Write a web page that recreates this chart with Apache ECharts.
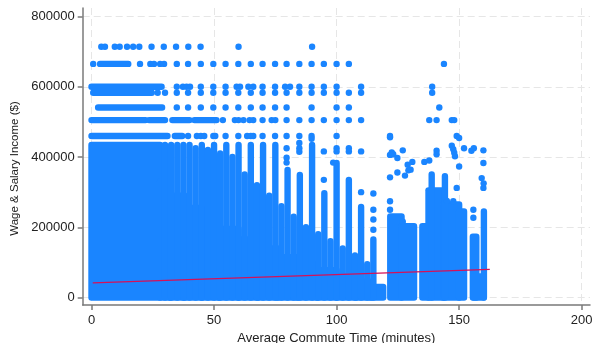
<!DOCTYPE html>
<html>
<head>
<meta charset="utf-8">
<script src="https://cdn.jsdelivr.net/npm/echarts@6/dist/echarts.min.js"></script>
<style>
  html, body { margin: 0; padding: 0; background: #fff; }
  #chart { width: 592px; height: 343px; }
</style>
</head>
<body>
<div id="chart"></div>
<script>
// ticks
const xTicks = [0, 50, 100, 150, 200];
const yTicks = [0, 200000, 400000, 600000, 800000];

// solid mass of overlapping points: [commute from, commute to, income top]
const massCols = [
  [0, 28, 434000], [28, 32, 330000], [32, 38, 290000], [38, 45, 255000],
  [45, 52, 225000], [52, 60, 195000], [60, 68, 165000], [68, 76, 140000],
  [76, 84, 115000], [84, 92, 95000], [92, 100, 78000], [100, 108, 60000],
  [108, 114, 45000], [114, 119, 30000]
];

// dense clusters right of 120 min: [from, to, income top]
const clusterCols = [
  [121.9, 126.5, 231000], [126.5, 131.6, 203000],
  [135, 137.5, 203000], [137.5, 143.5, 305000], [143.5, 150, 265000], [150, 152, 245000],
  [155.6, 157, 173000], [156, 160, 60000]
];

// vertical stripes of points (from 0 up to top)
const stripeX = [30, 32.5, 35, 37.5, 40, 42.5, 45, 47.5, 50, 52.5, 55, 57.5,
  60, 62.5, 65, 67.5, 70, 72.5, 75, 77.5, 80, 82.5, 85, 87.5, 90, 92.5,
  95, 97.5, 100, 102.5, 105, 107.5, 110, 112.5, 115, 138.8, 144.2, 160.1];
const stripeTop = [434000, 434000, 434000, 434000, 434000, 425000, 434000, 420000, 434000, 410000, 434000, 400000,
  434000, 350000, 434000, 320000, 434000, 290000, 434000, 260000, 363000, 230000, 349000, 200000, 434000, 180000,
  297000, 160000, 383000, 140000, 335000, 120000, 258000, 95000, 165000, 350000, 345000, 245000];

// top-coded income rows
const rowIncome = [714000, 665000, 600000, 583000, 541000, 505000, 460000];
const rowRuns = [
  [],
  [[3.5, 15]],
  [[0, 28.6]],
  [[0.7, 24.6]],
  [[2.7, 28.8]],
  [[0, 22], [23.5, 30], [33, 40], [42, 51]],
  [[0, 31], [34, 37]]
];
const rowDots = [
  [4, 5.5, 9.5, 11.5, 14.5, 17, 19.5, 24.5, 29.5, 34.5, 39.5, 44.5, 60, 90],
  [0.7, 19.8, 24, 25.5, 28, 29.6, 34.8, 39.4, 44.6, 49.7, 54.7, 59.9, 65, 69.8, 74.9, 79.6, 84.8, 89.8, 94.8, 100, 105, 143.8],
  [34.8, 37.3, 38.8, 40.2, 44.6, 49.7, 54.7, 59.2, 60.6, 64, 66, 69.8, 74.9, 79, 81, 84.8, 89.8, 94.8, 100, 110, 139],
  [27, 30, 34.8, 39.4, 44.6, 49.7, 54.7, 59.9, 65, 69.8, 74.9, 79.6, 84.8, 89.8, 94.8, 100, 105, 110, 139],
  [34.8, 39.4, 44.6, 49.7, 54.7, 59.9, 65, 69.8, 74.9, 79.6, 89.8, 100, 105, 141.9],
  [53.6, 58.5, 60, 62, 64.5, 66, 69.8, 73.5, 75, 79.6, 84.8, 89.8, 94.8, 100, 105, 110, 137.8, 140.8, 147, 148],
  [39.4, 43, 44.6, 46, 49.7, 50.5, 54.7, 59.9, 63.5, 65, 66, 69.8, 74.9, 79.6, 84.8, 89.8, 100, 121.8, 149]
];

// scattered single points [commute, income]
const looseDots = [
  [79.6, 425000], [79.6, 398000], [79.6, 384000], [84.8, 440000], [84.8, 425000], [84.8, 415000],
  [89.8, 452000], [94.8, 416000], [94.8, 335000], [98.6, 384000], [100, 425000], [100, 416000],
  [105, 425000], [105, 416000], [110, 416000], [110, 300000], [115, 296000], [115, 250000],
  [115, 222000], [115, 193000], [121.8, 274000], [121.8, 250000], [127, 216000],
  [121.8, 456000], [121.8, 406000], [122.5, 413000], [123.1, 408000], [124.8, 397000], [127, 419000],
  [129, 378000], [130.9, 386000], [135.8, 386000], [137.8, 390000], [140.8, 418000], [140.8, 408000],
  [147, 432000], [147.6, 422000], [148, 412000], [148.3, 402000], [152, 425000], [155, 418000],
  [156, 425000], [159.9, 419000], [150, 373000], [159.9, 383000], [121.8, 342000], [124.8, 356000],
  [127.9, 347000], [129.3, 362000], [130.2, 364000], [149, 312000], [159.2, 340000], [159.9, 312000],
  [150, 454000], [145, 275000], [147.6, 274000], [155.8, 250000], [155.8, 227000], [160, 325000]
];

// fitted line end points
const fitX = [0.5, 162.5];
const fitY = [41900, 80300];

const DOT = '#1a85ff';
const FIT = '#d51159';
const AXIS = '#7a7a7a';
const FONT = '"Liberation Sans", Arial, sans-serif';
const R = 3.2;

const segData = [];
massCols.forEach(c => segData.push([c[0], c[1], 0, c[2]]));
clusterCols.forEach(c => segData.push([c[0], c[1], 0, c[2]]));
stripeX.forEach((x, i) => segData.push([x, x, 0, stripeTop[i]]));
rowIncome.forEach((y, i) => rowRuns[i].forEach(r => segData.push([r[0], r[1], y, y])));

const dotData = [];
rowIncome.forEach((y, i) => rowDots[i].forEach(x => dotData.push([x, y])));
looseDots.forEach(d => dotData.push(d));

function renderSeg(params, api) {
  const tl = api.coord([api.value(0), api.value(3)]);
  const br = api.coord([api.value(1), api.value(2)]);
  return {
    type: 'rect',
    shape: {
      x: tl[0] - R, y: tl[1] - R,
      width: br[0] - tl[0] + 2 * R, height: br[1] - tl[1] + 2 * R, r: R
    },
    style: { fill: DOT }
  };
}

const chart = echarts.init(document.getElementById('chart'), null, { renderer: 'canvas' });
chart.setOption({
  animation: false,
  backgroundColor: '#fff',
  grid: { left: 82.7, right: 2, top: 8, bottom: 38, outerBoundsMode: 'none' },
  xAxis: {
    type: 'value',
    min: -3.59,
    max: 203.39,
    name: 'Average Commute Time (minutes)',
    nameLocation: 'middle',
    nameGap: 27,
    nameTextStyle: { color: '#222', fontSize: 13, fontFamily: FONT },
    axisLine: { show: true, onZero: false, lineStyle: { color: AXIS, width: 1.5 } },
    axisTick: { show: true, length: 5, customValues: xTicks, lineStyle: { color: AXIS, width: 1.5 } },
    axisLabel: { customValues: xTicks, margin: 9, color: '#222', fontSize: 13, fontFamily: FONT },
    splitLine: { show: true, lineStyle: { color: '#e6e6e6', type: [7, 4], width: 1 } }
  },
  yAxis: {
    type: 'value',
    min: -21350,
    max: 824200,
    name: 'Wage & Salary Income ($)',
    nameLocation: 'middle',
    nameGap: 55,
    nameTextStyle: { color: '#222', fontSize: 11.5, fontFamily: FONT, padding: [0, 24, 0, 0] },
    axisLine: { show: true, onZero: false, lineStyle: { color: AXIS, width: 1.5 } },
    axisTick: { show: true, length: 5, customValues: yTicks, lineStyle: { color: AXIS, width: 1.5 } },
    axisLabel: {
      customValues: yTicks, margin: 8, color: '#222', fontSize: 13, fontFamily: FONT,
      formatter: v => String(v)
    },
    splitLine: { show: true, lineStyle: { color: '#e6e6e6', type: [7, 4], width: 1 } }
  },
  series: [
    {
      type: 'custom',
      renderItem: renderSeg,
      encode: { x: [0, 1], y: [2, 3] },
      data: segData,
      silent: true
    },
    {
      type: 'scatter',
      symbol: 'circle',
      symbolSize: 6.4,
      itemStyle: { color: DOT, opacity: 1 },
      data: dotData,
      silent: true
    },
    {
      type: 'line',
      data: fitX.map((x, i) => [x, fitY[i]]),
      showSymbol: false,
      lineStyle: { color: FIT, width: 1.2 },
      silent: true
    }
  ]
});
</script>
</body>
</html>
